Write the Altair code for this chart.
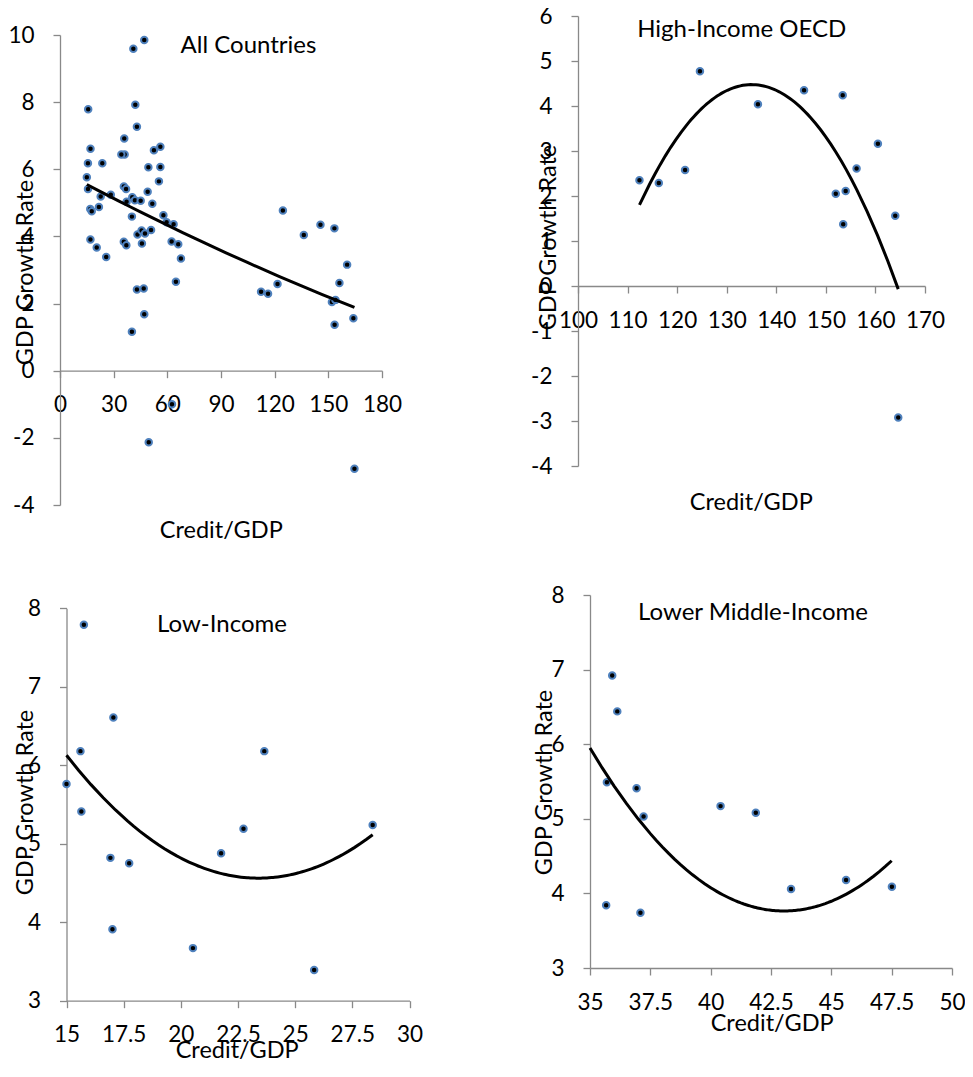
import altair as alt
import pandas as pd

# ---------------- data ----------------
low_x = [15.76, 17.05, 15.61, 23.65, 15.00, 15.65, 22.74, 28.39, 16.92, 17.74, 21.76, 17.01, 20.53, 25.83]
low_y = [7.79, 6.61, 6.18, 6.18, 5.76, 5.41, 5.19, 5.24, 4.82, 4.75, 4.88, 3.91, 3.67, 3.39]

lmi_x = [35.92, 36.13, 35.70, 36.93, 37.22, 40.41, 41.87, 43.33, 45.61, 47.51, 35.67, 37.09]
lmi_y = [6.92, 6.44, 5.49, 5.41, 5.03, 5.17, 5.08, 4.06, 4.18, 4.09, 3.84, 3.74]

oecd_x = [112.4, 116.3, 121.6, 124.6, 136.3, 145.6, 153.4, 160.5, 156.2, 152.0, 154.0, 153.5, 164.0, 164.6]
oecd_y = [2.35, 2.29, 2.58, 4.77, 4.04, 4.35, 4.24, 3.16, 2.61, 2.05, 2.11, 1.37, 1.56, -2.92]

other_x = [47.1, 41.0, 42.1, 43.0, 56.1, 52.5, 34.3, 49.4, 56.1, 55.3, 49.0, 45.1, 51.6, 40.2,
           57.8, 59.6, 63.5, 50.9, 45.8, 62.4, 66.1, 67.6, 64.8, 43.0, 46.8, 47.1, 40.2, 62.6, 49.6]
other_y = [9.85, 9.59, 7.92, 7.27, 6.67, 6.57, 6.44, 6.06, 6.07, 5.64, 5.33, 5.06, 4.97, 4.59,
           4.63, 4.42, 4.36, 4.19, 3.79, 3.85, 3.77, 3.34, 2.65, 2.42, 2.45, 1.68, 1.16, -1.00, -2.13]

# trend curve of the Lower Middle-Income panel
lmi_curve_x = [35.0, 35.69, 36.24, 37.62, 39.0, 40.37, 41.74, 42.98, 44.2, 45.6, 46.7, 47.5]
lmi_curve_y = [5.99, 5.56, 5.25, 4.81, 4.36, 4.00, 3.81, 3.75, 3.80, 3.98, 4.22, 4.45]

panel_titles = ["All Countries", "High-Income OECD", "Low-Income", "Lower Middle-Income"]
x_title = "Credit/GDP"
y_title = "GDP Growth Rate"

ticks_all_x = [0, 30, 60, 90, 120, 150, 180]
ticks_all_y = [-4, -2, 0, 2, 4, 6, 8, 10]
ticks_oecd_x = [100, 110, 120, 130, 140, 150, 160, 170]
ticks_oecd_y = [-4, -3, -2, -1, 0, 1, 2, 3, 4, 5, 6]
ticks_low_x = [15, 17.5, 20, 22.5, 25, 27.5, 30]
ticks_lmi_x = [35, 37.5, 40, 42.5, 45, 47.5, 50]
ticks_38_y = [3, 4, 5, 6, 7, 8]

# ---------------- styling / layout ----------------
FONT = "Lato"
GRAY = "#898989"
W, H = 957, 1054
LABEL_SIZE = 22.5
TITLE_SIZE = 23.5
PANEL_TITLE_SIZE = 24


def panel(xs, ys, xdom, xrng, ydom, yrng, xticks, yticks,
          xaxis_cy, yaxis_cx, xt_pos, yt_pos, extent, curve=None):
    df = pd.DataFrame({"credit": xs, "growth": ys})
    xscale = alt.Scale(domain=xdom, range=xrng, nice=False, zero=False)
    yscale = alt.Scale(domain=ydom, range=yrng, nice=False, zero=False)
    xaxis = alt.Axis(orient="bottom", offset=xaxis_cy - H, values=xticks,
                     title=x_title, titleX=xt_pos[0], titleY=xt_pos[1] - xaxis_cy,
                     titleAlign="center", titleBaseline="middle", titleAngle=0,
                     labelBaseline="middle", labelPadding=27)
    yaxis = alt.Axis(orient="left", offset=-yaxis_cx, values=yticks,
                     title=y_title, titleX=yt_pos[0] - yaxis_cx, titleY=yt_pos[1],
                     titleAlign="center", titleBaseline="middle", titleAngle=270,
                     labelPadding=19)
    pts = alt.Chart(df).mark_point(filled=True, fill="black", stroke="#4F81BD",
                                   strokeWidth=2, size=42, opacity=1).encode(
        x=alt.X("credit:Q", scale=xscale, axis=xaxis),
        y=alt.Y("growth:Q", scale=yscale, axis=yaxis),
    )
    fit_df = df if curve is None else pd.DataFrame({"credit": curve[0], "growth": curve[1]})
    fit = alt.Chart(fit_df).transform_regression(
        "credit", "growth", method="poly", order=2, extent=extent
    ).mark_line(color="black", strokeWidth=3).encode(
        x=alt.X("credit:Q", scale=xscale, axis=xaxis),
        y=alt.Y("growth:Q", scale=yscale, axis=yaxis),
    )
    return alt.layer(pts, fit)


def label(text, cx, cy):
    return alt.Chart(pd.DataFrame({"t": [text]})).mark_text(
        font=FONT, fontSize=PANEL_TITLE_SIZE, color="black", align="center", baseline="middle"
    ).encode(text="t:N", x=alt.value(cx), y=alt.value(cy))


all_x = low_x + lmi_x + oecd_x + other_x
all_y = low_y + lmi_y + oecd_y + other_y

p1 = panel(all_x, all_y, [0, 180], [52, 374], [-4, 10], [497, 27],
           ticks_all_x, ticks_all_y, 362.7, 52, (212.8, 522.7), (17, 264),
           [min(all_x), max(all_x)])
p2 = panel(oecd_x, oecd_y, [100, 170], [570, 917], [-4, 6], [458, 8],
           ticks_oecd_x, ticks_oecd_y, 278, 570, (742.8, 494), (540, 229),
           [min(oecd_x), max(oecd_x)])
p3 = panel(low_x, low_y, [15, 30], [58.5, 401.5], [3, 8], [992.7, 600.3],
           ticks_low_x, ticks_38_y, 992.7, 58.5, (228.7, 1042), (17, 794),
           [min(low_x), max(low_x)])
p4 = panel(lmi_x, lmi_y, [35, 50], [582, 944], [3, 8], [960, 587],
           ticks_lmi_x, ticks_38_y, 960, 582, (763.7, 1015), (536, 774),
           [35, 47.5], curve=(lmi_curve_x, lmi_curve_y))

t1 = label(panel_titles[0], 240.5, 38)
t2 = label(panel_titles[1], 733.7, 22)
t3 = label(panel_titles[2], 214, 617)
t4 = label(panel_titles[3], 745, 605)

chart = alt.layer(p1, p2, p3, p4, t1, t2, t3, t4).resolve_scale(
    x="independent", y="independent"
).resolve_axis(
    x="independent", y="independent"
).properties(
    width=W, height=H, padding=0, autosize=alt.AutoSizeParams(type="none")
).configure_view(stroke=None).configure_axis(
    labelFont=FONT, labelFontSize=LABEL_SIZE, labelColor="black",
    titleFont=FONT, titleFontSize=TITLE_SIZE, titleColor="black", titleFontWeight="normal",
    domainColor=GRAY, domainWidth=1.3, tickColor=GRAY, tickWidth=1.3, tickSize=7,
    grid=False, labelOverlap=False, labelFlush=False, labelExpr="'' + datum.value",
)

chart.save("out.html", embed_options={"renderer": "svg", "actions": False})
